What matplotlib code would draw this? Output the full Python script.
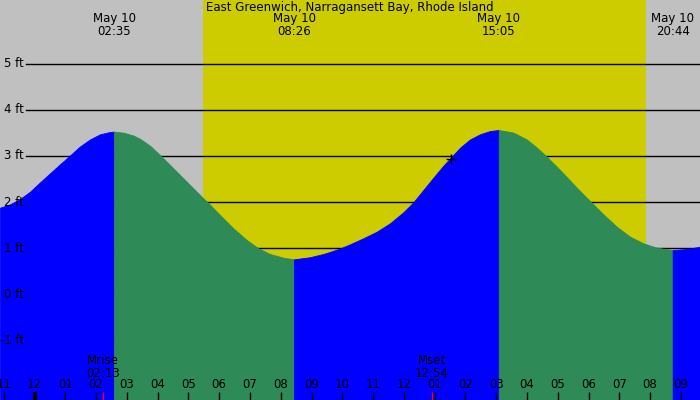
import matplotlib
matplotlib.use("Agg")
import matplotlib.pyplot as plt
import matplotlib.transforms as mtransforms

# ---- data (hours after midnight May 10, feet) ----
tide_t = [-1.121, -0.796, -0.471, -0.146, 0.179, 0.504, 0.828, 1.098, 1.462,
          1.803, 2.128, 2.453, 2.583,
          2.908, 3.210, 3.427, 3.752, 4.133, 4.565, 5.052, 5.484, 5.627,
          6.027, 6.459, 6.894, 7.271, 7.651, 8.083, 8.433,
          8.951, 9.383, 9.600, 9.925, 10.250, 10.682, 11.118, 11.550, 11.982,
          12.307, 12.632, 12.957, 13.282, 13.554, 13.824, 14.149, 14.474,
          14.799, 15.083,
          15.556, 15.991, 16.316, 16.641, 17.073, 17.505, 17.830, 18.103,
          18.480, 18.915, 19.347, 19.779, 20.214, 20.733,
          21.189, 21.621]
tide_h = [1.876, 1.950, 2.065, 2.224, 2.428, 2.624, 2.820, 2.978, 3.200,
          3.360, 3.472, 3.522, 3.530,
          3.505, 3.446, 3.374, 3.224, 2.985, 2.696, 2.370, 2.080, 1.993,
          1.717, 1.428, 1.174, 0.993, 0.870, 0.789, 0.754,
          0.800, 0.870, 0.915, 0.990, 1.080, 1.211, 1.354, 1.537, 1.776,
          1.993, 2.261, 2.528, 2.789, 2.985, 3.180, 3.360, 3.472,
          3.543, 3.565,
          3.509, 3.360, 3.185, 2.985, 2.696, 2.390, 2.165, 1.985,
          1.733, 1.463, 1.246, 1.102, 1.007, 0.957,
          0.978, 1.028]

extreme_t = [2.583, 8.433, 15.083, 20.733]
extreme_labels = ["May 10\n02:35", "May 10\n08:26", "May 10\n15:05", "May 10\n20:44"]
sunrise, sunset = 5.48, 19.87
moon_t = [2.217, 12.9]
moon_labels = ["Mrise\n02:13", "Mset\n12:54"]
marker_t, marker_h = 13.54, 2.93
grid_ft = [5, 4, 3, 2, 1, 0, -1]
grid_labels = ["5 ft", "4 ft", "3 ft", "2 ft", "1 ft", "0 ft", "-1 ft"]
hour_ticks = list(range(-1, 22))
hour_labels = ["11", "12", "01", "02", "03", "04", "05", "06", "07", "08", "09",
               "10", "11", "12", "01", "02", "03", "04", "05", "06", "07", "08", "09"]
title = "East Greenwich, Narragansett Bay, Rhode Island"

GRAY = "#C0C0C0"
YELLOW = "#CCCC00"
BLUE = "#0000FF"
GREEN = "#2E8B57"
FS = 8.5

fig = plt.figure(figsize=(7, 4), dpi=100)
ax = fig.add_axes([0, 0, 1, 1])
ax.set_xlim(-1.121, 21.621)
ax.set_ylim(-2.304, 6.391)
ax.axis("off")

# background night / day
ax.axvspan(-1.121, sunrise, color=GRAY, zorder=0, lw=0)
ax.axvspan(sunrise, sunset, color=YELLOW, zorder=0, lw=0)
ax.axvspan(sunset, 21.621, color=GRAY, zorder=0, lw=0)

# grid lines
for g in grid_ft:
    ax.axhline(g, xmin=26 / 700, xmax=1, color="black", lw=1, zorder=1)

# tide fill: rising blue, falling green
bounds = [tide_t[0]] + extreme_t + [tide_t[-1]]
for i in range(len(bounds) - 1):
    a, b = bounds[i], bounds[i + 1]
    xs = [t for t in tide_t if a <= t <= b]
    ys = [h for t, h in zip(tide_t, tide_h) if a <= t <= b]
    rising = ys[-1] > ys[0]
    c = BLUE if rising else GREEN
    ax.fill_between(xs, ys, -2.304, facecolor=c, edgecolor=c,
                    lw=0.6, zorder=2)

ax.plot([marker_t], [marker_h], marker="+", color="black", ms=7, mew=1, zorder=4)

# y labels
ytr = mtransforms.blended_transform_factory(ax.transAxes, ax.transData)
for g, lab in zip(grid_ft, grid_labels):
    ax.text(24 / 700, g, lab, transform=ytr, ha="right", va="center",
            fontsize=FS, color="black", zorder=5)

# hour ticks and labels
xtr = ax.get_xaxis_transform()
for t, lab in zip(hour_ticks, hour_labels):
    lw = 3 if t == 0 else 1
    ax.vlines(t, 0, 8 / 400, transform=xtr, color="black", lw=lw, zorder=5)
    ax.text(t, 15 / 400, lab, transform=xtr, ha="center", va="center",
            fontsize=FS, color="black", zorder=5)

# moon events
for t, lab in zip(moon_t, moon_labels):
    ax.vlines(t, 0, 8 / 400, transform=xtr, color="red", lw=1, zorder=6)
    ax.text(t, 33 / 400, lab, transform=xtr, ha="center", va="center",
            fontsize=FS, color="black", linespacing=1.0, zorder=5)

# extreme labels at top
for t, lab in zip(extreme_t, extreme_labels):
    ax.text(t, 1 - 25 / 400, lab, transform=xtr, ha="center", va="center",
            fontsize=FS, color="black", linespacing=1.0, zorder=5)

ax.text(0.5, 1 - 8 / 400, title, transform=ax.transAxes, ha="center",
        va="center", fontsize=FS, color="black", zorder=5)

fig.savefig("out.png", dpi=100)
